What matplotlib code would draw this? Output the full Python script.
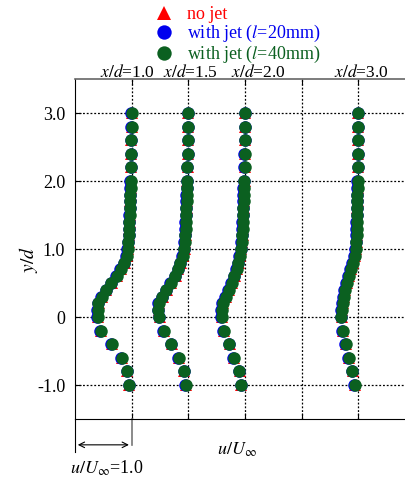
import matplotlib
matplotlib.use("Agg")
import matplotlib.pyplot as plt
import matplotlib.transforms as mtransforms

plt.rcParams['font.family'] = ['Liberation Serif', 'DejaVu Serif']
plt.rcParams['mathtext.fontset'] = 'stix'

# vertical positions of the measuring points (y/d)
y_pos = [-1.0, -0.8, -0.6, -0.4, -0.2, 0.0, 0.1, 0.2, 0.3, 0.4, 0.5, 0.6, 0.7, 0.8, 0.9,
         1.0, 1.1, 1.2, 1.3, 1.4, 1.5, 1.6, 1.7, 1.8, 1.9, 2.0, 2.2, 2.4, 2.6, 2.8, 3.0]

# stations, the shift of each profile on the u/U axis, and where its label sits
stations = ['1.0', '1.5', '2.0', '3.0']
station_shift = [0, 1, 2, 4]
station_label_x = [0.93, 2.03, 3.23, 5.04]

# u/U_inf profiles, x/d = 1.0
nojet_10 = [0.955, 0.925, 0.835, 0.655, 0.455, 0.405, 0.405, 0.415, 0.475, 0.555, 0.645, 0.745, 0.815, 0.875, 0.915,
            0.935, 0.945, 0.955, 0.96, 0.965, 0.97, 0.975, 0.975, 0.98, 0.985, 0.985, 0.99, 0.995, 0.995, 1.0, 1.0]
jet20_10 = [0.945, 0.915, 0.82, 0.64, 0.44, 0.39, 0.39, 0.40, 0.46, 0.54, 0.63, 0.73, 0.80, 0.865, 0.905,
            0.925, 0.935, 0.945, 0.95, 0.955, 0.96, 0.965, 0.965, 0.97, 0.975, 0.975, 0.985, 0.985, 0.99, 0.995, 0.995]
jet40_10 = [0.95, 0.92, 0.83, 0.65, 0.45, 0.40, 0.40, 0.41, 0.47, 0.55, 0.64, 0.74, 0.81, 0.87, 0.91,
            0.93, 0.94, 0.95, 0.955, 0.96, 0.965, 0.97, 0.97, 0.975, 0.98, 0.98, 0.99, 0.99, 0.99, 1.0, 1.0]

# x/d = 1.5
nojet_15 = [0.955, 0.925, 0.835, 0.705, 0.575, 0.495, 0.475, 0.485, 0.545, 0.615, 0.695, 0.775, 0.825, 0.865, 0.905,
            0.935, 0.945, 0.95, 0.955, 0.96, 0.965, 0.97, 0.975, 0.975, 0.98, 0.98, 0.985, 0.99, 0.995, 1.0, 1.0]
jet20_15 = [0.945, 0.915, 0.82, 0.69, 0.56, 0.48, 0.46, 0.47, 0.53, 0.60, 0.68, 0.76, 0.81, 0.85, 0.89,
            0.92, 0.93, 0.935, 0.94, 0.945, 0.955, 0.96, 0.965, 0.965, 0.97, 0.97, 0.975, 0.985, 0.985, 0.995, 0.995]
jet40_15 = [0.95, 0.92, 0.83, 0.70, 0.57, 0.49, 0.47, 0.48, 0.54, 0.61, 0.69, 0.77, 0.82, 0.86, 0.90,
            0.93, 0.94, 0.945, 0.95, 0.955, 0.96, 0.965, 0.97, 0.97, 0.975, 0.975, 0.98, 0.99, 0.99, 1.0, 1.0]

# x/d = 2.0
nojet_20 = [0.935, 0.905, 0.805, 0.725, 0.625, 0.595, 0.595, 0.615, 0.665, 0.715, 0.775, 0.815, 0.855, 0.885, 0.915,
            0.935, 0.945, 0.955, 0.96, 0.965, 0.97, 0.975, 0.98, 0.985, 0.985, 0.99, 0.995, 0.995, 1.0, 1.0, 1.0]
jet20_20 = [0.925, 0.895, 0.79, 0.71, 0.61, 0.58, 0.58, 0.60, 0.65, 0.70, 0.76, 0.80, 0.84, 0.87, 0.90,
            0.92, 0.93, 0.94, 0.945, 0.95, 0.955, 0.96, 0.965, 0.97, 0.97, 0.975, 0.985, 0.985, 0.995, 0.995, 0.995]
jet40_20 = [0.93, 0.90, 0.80, 0.72, 0.62, 0.59, 0.59, 0.61, 0.66, 0.71, 0.77, 0.81, 0.85, 0.88, 0.91,
            0.93, 0.94, 0.95, 0.955, 0.96, 0.965, 0.97, 0.975, 0.98, 0.98, 0.985, 0.99, 0.99, 1.0, 1.0, 1.0]

# x/d = 3.0
nojet_30 = [0.935, 0.895, 0.835, 0.785, 0.725, 0.705, 0.715, 0.725, 0.745, 0.765, 0.795, 0.835, 0.865, 0.905, 0.935,
            0.955, 0.965, 0.97, 0.975, 0.975, 0.98, 0.98, 0.985, 0.985, 0.99, 0.99, 0.995, 0.995, 1.0, 1.0, 1.0]
jet20_30 = [0.925, 0.885, 0.82, 0.77, 0.71, 0.69, 0.70, 0.71, 0.73, 0.75, 0.78, 0.82, 0.85, 0.89, 0.92,
            0.94, 0.95, 0.955, 0.96, 0.96, 0.965, 0.965, 0.97, 0.97, 0.975, 0.975, 0.985, 0.985, 0.995, 0.995, 0.995]
jet40_30 = [0.93, 0.89, 0.83, 0.78, 0.72, 0.70, 0.71, 0.72, 0.74, 0.76, 0.79, 0.83, 0.86, 0.90, 0.93,
            0.95, 0.96, 0.965, 0.97, 0.97, 0.975, 0.975, 0.98, 0.98, 0.985, 0.985, 0.99, 0.99, 1.0, 1.0, 1.0]

nojet = [nojet_10, nojet_15, nojet_20, nojet_30]
jet20 = [jet20_10, jet20_15, jet20_20, jet20_30]
jet40 = [jet40_10, jet40_15, jet40_20, jet40_30]

labels = ['no jet', 'with jet ($l$=20mm)', 'with jet ($l$=40mm)']
colors = ['#ff0000', '#0000ee', '#0b6020']

fig = plt.figure(figsize=(4.06, 4.82), dpi=100)
ax = fig.add_axes([75 / 406, 1 - 419 / 482, 331 / 406, 340 / 482])

handles = []
for k in range(len(stations)):
    s = station_shift[k]
    h1, = ax.plot([s + u for u in nojet[k]], y_pos, '^', color=colors[0], ms=9, mew=0, zorder=3)
    h2, = ax.plot([s + u for u in jet20[k]], y_pos, 'o', color=colors[1], ms=9, mew=0, zorder=4)
    h3, = ax.plot([s + u for u in jet40[k]], y_pos, 'o', color=colors[2], ms=9, mew=0, zorder=5)
    if k == 0:
        handles = [h1, h2, h3]

ax.set_xlim(0, 331 / 56.7)
ax.set_ylim(-1.5, 3.5)
ax.set_xticks([1, 2, 3, 4, 5])
ax.set_yticks([-1, 0, 1, 2, 3])
ax.set_yticklabels(['-1.0', '0', '1.0', '2.0', '3.0'])
ax.tick_params(axis='x', direction='in', length=4, labelbottom=False, top=True)
ax.tick_params(axis='y', direction='in', length=4, labelsize=13, pad=7)
ax.grid(True, color='black', linestyle=(0, (1.5, 1.5)), linewidth=0.9)
ax.set_axisbelow(True)
ax.spines['right'].set_visible(False)
ax.spines['top'].set_color('#666666')
ax.spines['top'].set_linewidth(1.2)

ax.set_ylabel('$y/d$', fontsize=14)
ax.yaxis.set_label_coords(-0.107, 0.47)

# station labels above the frame
trans = mtransforms.blended_transform_factory(ax.transData, ax.transAxes)
for k in range(len(stations)):
    ax.text(station_label_x[k], 1.007, '$x/d$=' + stations[k], transform=trans,
            ha='center', va='baseline', fontsize=12.5)

# scale key under the frame
key_len = 1.0
ax.annotate('', xy=(0, -1.88), xytext=(key_len, -1.88),
            arrowprops=dict(arrowstyle='<->', color='black', lw=0.8), annotation_clip=False)
ax.plot([0, 0], [-1.5, -1.98], color='black', lw=0.8, clip_on=False)
ax.plot([key_len, key_len], [-1.5, -1.88], color='#777777', lw=1.2, clip_on=False)
ax.text(key_len / 2 + 0.05, -2.23, '$u/U_\\infty$=1.0', ha='center', va='center', fontsize=13)
ax.text(2.85, -1.95, '$u/U_\\infty$', ha='center', va='center', fontsize=13)

leg = fig.legend(handles, labels, loc='upper left', bbox_to_anchor=(155 / 406, 1 - 6 / 482),
                 frameon=False, fontsize=13, handlelength=1.0, handletextpad=0.75,
                 labelspacing=0.0, borderpad=0, borderaxespad=0, labelcolor=colors,
                 markerscale=1.15)

fig.savefig('out.png', dpi=100)
